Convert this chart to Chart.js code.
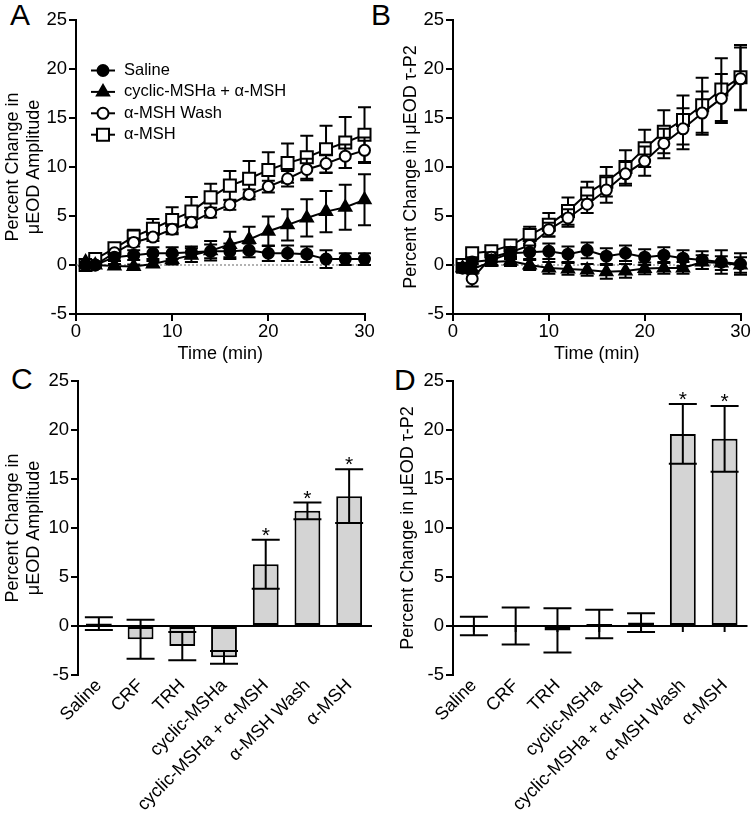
<!DOCTYPE html>
<html><head><meta charset="utf-8">
<script src="https://cdn.jsdelivr.net/npm/chart.js"></script>
<style>
html,body{margin:0;padding:0;background:#fff;}
body{width:751px;height:813px;position:relative;overflow:hidden;font-family:"Liberation Sans",Arial,sans-serif;}
canvas{position:absolute;}
.lbl{position:absolute;font-size:30px;line-height:30px;color:#000;}
</style></head><body>
<div class="lbl" style="left:10px;top:0px">A</div>
<div class="lbl" style="left:371px;top:0px">B</div>
<div class="lbl" style="left:11px;top:364px">C</div>
<div class="lbl" style="left:394px;top:365px">D</div>
<canvas id="cA" width="375" height="370" style="left:0;top:0"></canvas>
<canvas id="cB" width="376" height="370" style="left:375px;top:0"></canvas>
<canvas id="cC" width="375" height="468" style="left:0;top:345px"></canvas>
<canvas id="cD" width="376" height="468" style="left:375px;top:345px"></canvas>
<script>
// ---------- data ----------
const times = [1,2,4,6,8,10,12,14,16,18,20,22,24,26,28,30];
const seriesNames = ['Saline','cyclic-MSHa + \u03b1-MSH','\u03b1-MSH Wash','\u03b1-MSH'];

// Panel A: % change in µEOD amplitude
const ampSaline    = [0, 0, 0.8, 1.0, 1.2, 1.2, 1.3, 1.4, 1.4, 1.5, 1.2, 1.2, 1.1, 0.6, 0.6, 0.6];
const ampSalineErr = [0.3, 0.3, 0.4, 0.5, 0.6, 0.6, 0.6, 0.7, 0.8, 0.7, 0.8, 0.8, 0.8, 0.9, 0.6, 0.6];
const ampCyclic    = [0.3, 0, -0.1, -0.15, 0.1, 0.55, 1.0, 1.45, 2.1, 2.6, 3.45, 4.1, 4.8, 5.45, 5.9, 6.65];
const ampCyclicErr = [0.3, 0.2, 0.2, 0.2, 0.3, 0.5, 0.7, 1.0, 1.3, 1.3, 1.5, 1.6, 1.9, 2.1, 2.3, 2.6];
const ampWash      = [0, 0, 1.25, 2.3, 2.85, 3.65, 4.35, 5.35, 6.15, 7.2, 8.0, 8.8, 9.75, 10.35, 11.1, 11.7];
const ampWashErr   = [0.2, 0.3, 0.3, 0.4, 0.4, 0.5, 0.5, 0.5, 0.5, 0.5, 0.6, 0.8, 1.1, 0.9, 1.2, 1.3];
const ampAlpha     = [0, 0.6, 1.7, 2.9, 3.7, 4.6, 5.45, 6.9, 8.1, 8.8, 9.7, 10.4, 11.0, 11.8, 12.5, 13.3];
const ampAlphaErr  = [0.2, 0.3, 0.5, 0.7, 1.0, 1.3, 1.5, 1.4, 1.5, 1.8, 1.8, 2.0, 2.2, 2.4, 2.6, 2.8];

// Panel B: % change in µEOD τ-P2
const tauSaline    = [-0.3, 0.3, 0.5, 1.2, 1.3, 1.4, 1.1, 1.5, 0.9, 1.2, 0.8, 1.0, 0.7, 0.5, 0.3, 0.1];
const tauSalineErr = [0.4, 0.5, 0.5, 0.6, 0.7, 0.8, 0.8, 0.8, 0.8, 0.8, 0.8, 0.8, 0.8, 0.9, 1.2, 1.1];
const tauCyclic    = [-0.3, -0.4, 0.3, 0.4, 0.0, -0.3, -0.4, -0.5, -0.7, -0.6, -0.35, -0.3, -0.3, 0.3, 0.2, 0.0];
const tauCyclicErr = [0.5, 0.5, 0.4, 0.5, 0.5, 0.6, 0.6, 0.6, 0.7, 0.7, 0.6, 0.6, 0.6, 0.7, 0.7, 0.8];
const tauWash      = [-0.3, -1.4, 0.8, 1.3, 2.0, 3.6, 4.8, 6.2, 7.65, 9.3, 10.6, 12.4, 13.9, 15.5, 17.0, 19.0];
const tauWashErr   = [0.4, 0.8, 0.5, 0.5, 0.6, 0.7, 0.9, 0.9, 1.3, 1.2, 1.5, 1.5, 2.1, 2.2, 2.5, 3.2];
const tauAlpha     = [0, 1.2, 1.4, 2.0, 3.05, 4.1, 5.5, 7.3, 8.5, 10.0, 11.9, 13.6, 14.8, 16.3, 17.9, 19.15];
const tauAlphaErr  = [0.3, 0.4, 0.4, 0.5, 0.85, 1.2, 1.4, 1.2, 1.5, 1.7, 1.9, 2.2, 2.5, 2.8, 3.2, 3.3];

// Panels C & D: bar summaries
const barCategories = ['Saline','CRF','TRH','cyclic-MSHa','cyclic-MSHa + \u03b1-MSH','\u03b1-MSH Wash','\u03b1-MSH'];
const ampBar    = [0.25, -1.35, -2.05, -3.2, 6.3, 11.75, 13.25];
const ampBarErr = [0.65, 2.0, 1.45, 0.65, 2.5, 0.85, 2.75];
const ampSig    = [false, false, false, false, true, true, true];
const tauBar    = [0, 0, -0.45, 0.2, 0.35, 19.6, 19.1];
const tauBarErr = [0.95, 1.9, 2.25, 1.45, 0.95, 3.05, 3.35];
const tauSig    = [false, false, false, false, false, true, true];

const yTicks = {min: -5, max: 25, step: 5};
const xTicks = {min: 0, max: 30, step: 10};

// ---------- styling ----------
const FONT = '"Liberation Sans", Arial, sans-serif';
Chart.defaults.font.family = FONT;
Chart.defaults.color = '#000';
const TICK_SIZE = 18.5, TITLE_SIZE = 18;
const markerStyles = [
  {style:'circle', fill:'#000', r:5.5},
  {style:'triangle', fill:'#000', r:7},
  {style:'circle', fill:'#fff', r:5.5},
  {style:'rect', fill:'#fff', r:8.5}
];

function drawMarker(ctx, m, x, y){
  ctx.save();
  ctx.fillStyle = m.fill; ctx.strokeStyle = '#000'; ctx.lineWidth = 2;
  ctx.beginPath();
  if (m.style === 'circle') { ctx.arc(x, y, m.r, 0, Math.PI*2); }
  else if (m.style === 'rect') { const s = m.r*Math.SQRT1_2; ctx.rect(x-s, y-s, 2*s, 2*s); }
  else { let a = 0; ctx.moveTo(x+Math.sin(a)*m.r, y-Math.cos(a)*m.r);
    for (let k=0;k<2;k++){ a += 2*Math.PI/3; ctx.lineTo(x+Math.sin(a)*m.r, y-Math.cos(a)*m.r); }
    ctx.closePath(); }
  ctx.fill(); ctx.stroke(); ctx.restore();
}

const lineErrPlugin = {
  id: 'lineErr',
  beforeDatasetDraw(chart, args){
    const ds = chart.data.datasets[args.index];
    if (!ds.errors) return;
    const ys = chart.scales.y, ctx = chart.ctx;
    ctx.save(); ctx.strokeStyle = '#000'; ctx.lineWidth = 2;
    args.meta.data.forEach((pt, i) => {
      const v = ds.data[i].y, e = ds.errors[i];
      const yt = ys.getPixelForValue(v+e), yb = ys.getPixelForValue(v-e), x = pt.x;
      ctx.beginPath();
      ctx.moveTo(x, yt); ctx.lineTo(x, yb);
      ctx.moveTo(x-6.5, yt); ctx.lineTo(x+6.5, yt);
      ctx.moveTo(x-6.5, yb); ctx.lineTo(x+6.5, yb);
      ctx.stroke();
    });
    ctx.restore();
  }
};

const dottedZeroPlugin = {
  id: 'dottedZero',
  beforeDatasetsDraw(chart){
    const ctx = chart.ctx, ca = chart.chartArea, y = chart.scales.y.getPixelForValue(0);
    ctx.save(); ctx.strokeStyle = '#666'; ctx.lineWidth = 1; ctx.setLineDash([2,2]);
    ctx.beginPath(); ctx.moveTo(ca.left, y); ctx.lineTo(ca.right, y); ctx.stroke(); ctx.restore();
  }
};

const legendPlugin = {
  id: 'innerLegend',
  afterDraw(chart, args, opts){
    if (!opts.show) return;
    const ctx = chart.ctx;
    chart.data.datasets.forEach((ds, i) => {
      const y = opts.y0 + i*opts.dy;
      ctx.save(); ctx.strokeStyle = '#000'; ctx.lineWidth = 2;
      ctx.beginPath(); ctx.moveTo(opts.x0, y); ctx.lineTo(opts.x0+opts.len, y); ctx.stroke(); ctx.restore();
      drawMarker(ctx, markerStyles[i], opts.x0+opts.len/2, y);
      ctx.save(); ctx.fillStyle = '#000'; ctx.font = '16.5px ' + FONT; ctx.textBaseline = 'middle';
      ctx.fillText(ds.label, opts.tx, y); ctx.restore();
    });
  }
};

function yAxis(title, width, titlePad){
  return {
    min: yTicks.min, max: yTicks.max,
    afterFit(s){ s.width = width; s.paddingTop = 0; s.paddingBottom = 0; },
    ticks: {stepSize: yTicks.step, font: {size: TICK_SIZE}, color: '#000', padding: 2},
    grid: {drawOnChartArea: false, color: '#000', lineWidth: 2, tickLength: 7},
    border: {color: '#000', width: 2},
    title: {display: true, text: title, font: {size: TITLE_SIZE, lineHeight: 1.2}, color: '#000', padding: {top: titlePad, bottom: 0}}
  };
}

function timeChart(id, sets, yTitle, yWidth, titlePad, padRight, legend){
  const datasets = sets.map((s, i) => ({
    label: seriesNames[i],
    data: times.map((t, k) => ({x: t, y: s.v[k]})),
    errors: s.e,
    borderColor: '#000', borderWidth: 2, tension: 0, clip: false,
    pointStyle: markerStyles[i].style, pointRadius: markerStyles[i].r,
    pointBackgroundColor: markerStyles[i].fill, pointBorderColor: '#000', pointBorderWidth: 2,
    pointHoverRadius: markerStyles[i].r
  }));
  new Chart(document.getElementById(id), {
    type: 'line',
    data: {datasets},
    options: {
      responsive: false, animation: false, devicePixelRatio: 1,
      layout: {padding: {left: 0, top: 20, right: padRight, bottom: 0}},
      plugins: {legend: {display: false}, tooltip: {enabled: false},
        innerLegend: legend},
      scales: {
        x: {type: 'linear', min: xTicks.min, max: xTicks.max,
          afterFit(s){ s.height = 56; s.paddingLeft = 0; s.paddingRight = 0; },
          ticks: {stepSize: xTicks.step, font: {size: TICK_SIZE}, color: '#000', padding: 0},
          grid: {drawOnChartArea: false, color: '#000', lineWidth: 2, tickLength: 7},
          border: {color: '#000', width: 2},
          title: {display: true, text: 'Time (min)', font: {size: TITLE_SIZE, lineHeight: 1.2}, color: '#000', padding: {top: 0, bottom: 5}}
        },
        y: yAxis(yTitle, yWidth, titlePad)
      }
    },
    plugins: [dottedZeroPlugin, lineErrPlugin, legendPlugin]
  });
}

timeChart('cA', [
  {v: ampSaline, e: ampSalineErr}, {v: ampCyclic, e: ampCyclicErr},
  {v: ampWash, e: ampWashErr}, {v: ampAlpha, e: ampAlphaErr}
], ['Percent Change in', '\u03bcEOD Amplitude'], 76, 2, 10,
  {show: true, x0: 91, len: 24, tx: 124, y0: 70.5, dy: 21.4});

timeChart('cB', [
  {v: tauSaline, e: tauSalineErr}, {v: tauCyclic, e: tauCyclicErr},
  {v: tauWash, e: tauWashErr}, {v: tauAlpha, e: tauAlphaErr}
], 'Percent Change in \u03bcEOD \u03c4-P2', 78, 25.5, 9.5, {show: false});

const barPlugin = {
  id: 'barExtras',
  afterDatasetsDraw(chart, args, opts){
    const ctx = chart.ctx, ca = chart.chartArea, ys = chart.scales.y;
    const ds = chart.data.datasets[0], meta = chart.getDatasetMeta(0);
    const y0 = ys.getPixelForValue(0);
    ctx.save(); ctx.strokeStyle = '#000'; ctx.lineWidth = 2;
    ctx.beginPath(); ctx.moveTo(ca.left, y0); ctx.lineTo(ca.right + 2, y0); ctx.stroke();
    if (opts.ticks) {
      meta.data.forEach(b => { ctx.beginPath(); ctx.moveTo(b.x, y0); ctx.lineTo(b.x, y0 + 6); ctx.stroke(); });
    }
    meta.data.forEach((b, i) => {
      const v = ds.data[i], e = ds.errors[i];
      const yt = ys.getPixelForValue(v+e), yb = ys.getPixelForValue(v-e), x = b.x;
      ctx.beginPath();
      ctx.moveTo(x, yt); ctx.lineTo(x, yb);
      ctx.moveTo(x-14, yt); ctx.lineTo(x+14, yt);
      ctx.moveTo(x-14, yb); ctx.lineTo(x+14, yb);
      ctx.stroke();
      if (ds.sig[i]) {
        ctx.fillStyle = '#000'; ctx.font = '21px ' + FONT; ctx.textAlign = 'center'; ctx.textBaseline = 'alphabetic';
        ctx.fillText('*', x, yt + 2);
      }
    });
    ctx.restore();
  }
};

function barChart(id, vals, errs, sig, yTitle, titlePad, padRight, ticks){
  new Chart(document.getElementById(id), {
    type: 'bar',
    data: {labels: barCategories, datasets: [{
      data: vals, errors: errs, sig: sig,
      backgroundColor: '#d4d4d4', borderColor: '#000', borderWidth: 2, borderSkipped: false,
      categoryPercentage: 1, barPercentage: 0.62
    }]},
    options: {
      responsive: false, animation: false, devicePixelRatio: 1,
      layout: {padding: {left: 0, top: 36, right: padRight, bottom: 0}},
      plugins: {legend: {display: false}, tooltip: {enabled: false}, barExtras: {ticks}},
      scales: {
        x: {type: 'category',
          afterFit(s){ s.height = 138; s.paddingLeft = 0; s.paddingRight = 0; },
          grid: {display: false, drawTicks: false}, border: {display: false},
          ticks: {autoSkip: false, minRotation: 45, maxRotation: 45, padding: 0, font: {size: 18}, color: '#000'}
        },
        y: yAxis(yTitle, 78, titlePad)
      }
    },
    plugins: [barPlugin]
  });
}

barChart('cC', ampBar, ampBarErr, ampSig, ['Percent Change in', '\u03bcEOD Amplitude'], 2, 5, false);
barChart('cD', tauBar, tauBarErr, tauSig, 'Percent Change in \u03bcEOD \u03c4-P2', 22.7, 5.5, true);
</script>
</body></html>
